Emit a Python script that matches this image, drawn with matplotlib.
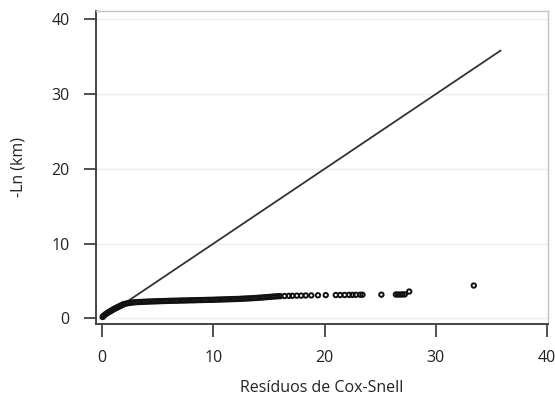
import matplotlib.pyplot as plt

plt.rcParams['font.family'] = ['Open Sans', 'DejaVu Sans']

# residuos de Cox-Snell e -ln da sobrevivencia estimada
residuos = [0.05, 0.1, 0.2, 0.3, 0.4, 0.5, 0.6, 0.7, 0.8, 0.9,
            1.0, 1.1, 1.2, 1.3, 1.4, 1.5, 1.6, 1.7, 1.8, 1.9,
            2.0, 2.2, 2.4, 2.6, 2.8, 3.0, 3.2, 3.4, 3.6, 3.8,
            4.0, 4.2, 4.4, 4.6, 4.8, 5.0, 5.2, 5.4, 5.6, 5.8,
            6.0, 6.2, 6.4, 6.6, 6.8, 7.0, 7.2, 7.4, 7.6, 7.8,
            8.0, 8.2, 8.4, 8.6, 8.8, 9.0, 9.2, 9.4, 9.6, 9.8,
            10.0, 10.2, 10.4, 10.6, 10.8, 11.0, 11.2, 11.4, 11.6, 11.8,
            12.0, 12.2, 12.4, 12.6, 12.8, 13.0, 13.2, 13.4, 13.6, 13.8,
            14.0, 14.2, 14.4, 14.6, 14.8, 15.0, 15.2, 15.4, 15.6, 15.8,
            16.0, 16.4, 16.8, 17.1, 17.5, 17.9, 18.3, 18.8, 19.4, 20.1,
            21.0, 21.4, 21.8, 22.2, 22.5, 22.8, 23.2, 23.4, 25.1, 26.4,
            26.6, 26.8, 27.0, 27.2, 27.6, 33.4]
menos_ln = [0.2, 0.3, 0.42, 0.55, 0.65, 0.75, 0.85, 0.92, 1.02, 1.1,
            1.2, 1.28, 1.35, 1.43, 1.5, 1.58, 1.65, 1.72, 1.8, 1.87,
            1.93, 2.0, 2.06, 2.1, 2.14, 2.17, 2.19, 2.2, 2.22, 2.23,
            2.25, 2.26, 2.27, 2.28, 2.29, 2.3, 2.31, 2.32, 2.33, 2.34,
            2.35, 2.36, 2.37, 2.37, 2.38, 2.39, 2.4, 2.4, 2.41, 2.42,
            2.43, 2.43, 2.44, 2.45, 2.46, 2.46, 2.47, 2.48, 2.49, 2.49,
            2.5, 2.51, 2.52, 2.53, 2.54, 2.55, 2.56, 2.57, 2.58, 2.59,
            2.6, 2.61, 2.62, 2.64, 2.65, 2.67, 2.68, 2.7, 2.72, 2.74,
            2.76, 2.78, 2.8, 2.83, 2.85, 2.88, 2.9, 2.93, 2.95, 2.97,
            2.98, 3.0, 3.02, 3.03, 3.05, 3.05, 3.07, 3.08, 3.1, 3.12,
            3.13, 3.13, 3.14, 3.15, 3.15, 3.16, 3.17, 3.17, 3.18, 3.2,
            3.2, 3.2, 3.21, 3.22, 3.6, 4.4]

# reta de referencia y = x
reta = [0, 35.8]

fig = plt.figure(figsize=(5.55, 3.97), dpi=100)
ax = fig.add_axes([0.173, 0.1839, 0.814, 0.7884])

ax.plot(reta, reta, color='#333333', lw=1.3, zorder=3)
ax.scatter(residuos, menos_ln, s=10, facecolors='none', edgecolors='#111111',
           linewidths=1.4, zorder=4)

ax.set_xlim(-0.54, 40.05)
ax.set_ylim(-0.74, 41.1)
ax.set_xticks([0, 10, 20, 30, 40])
ax.set_yticks([0, 10, 20, 30, 40])
ax.grid(axis='y', color='#e6eeee', lw=1.0, zorder=0)
ax.set_axisbelow(True)

for lado in ['top', 'right']:
    ax.spines[lado].set_color('#c4c4c4')
    ax.spines[lado].set_linewidth(1.0)
for lado in ['left', 'bottom']:
    ax.spines[lado].set_color('#444444')
    ax.spines[lado].set_linewidth(1.4)

ax.tick_params(direction='out', length=9, width=1.2, color='#333333',
               labelsize=11.5, labelcolor='#222222', pad=10)

ax.set_xlabel('Resíduos de Cox-Snell', fontsize=11.5, color='#222222', labelpad=10)
ax.set_ylabel('-Ln (km)', fontsize=11.5, color='#222222', labelpad=18)

fig.savefig('out.png', dpi=100)
